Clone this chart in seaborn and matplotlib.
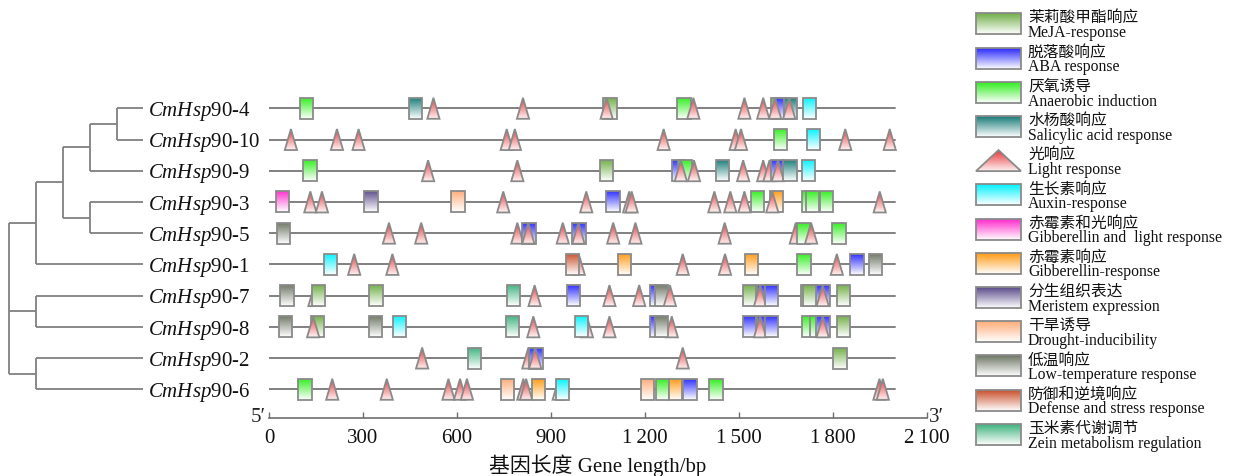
import numpy as np
import pandas as pd
import matplotlib
matplotlib.use("Agg")
import matplotlib.pyplot as plt
from matplotlib.colors import to_rgb
from matplotlib.patches import Polygon
from matplotlib.transforms import blended_transform_factory
import seaborn as sns

# ---------------------------------------------------------------- data
genes = ["CmHsp90-4", "CmHsp90-10", "CmHsp90-9", "CmHsp90-3", "CmHsp90-5",
         "CmHsp90-1", "CmHsp90-7", "CmHsp90-8", "CmHsp90-2", "CmHsp90-6"]
gene_length_bp = [2000, 2000, 2000, 2000, 2000, 2000, 2000, 2000, 2000, 2000]

# cladogram topology (leaves in the same order as the gene rows)
tree = (((((("CmHsp90-4", "CmHsp90-10"), "CmHsp90-9"),
           ("CmHsp90-3", "CmHsp90-5")), "CmHsp90-1")),
        ("CmHsp90-7", "CmHsp90-8"),
        ("CmHsp90-2", "CmHsp90-6"))

# cis-acting elements: (element type, centre position in bp)
cre_90_4 = [("ANA", 120), ("SA", 467), ("LIGHT", 525), ("LIGHT", 811),
            ("MeJA", 1089), ("LIGHT", 1078), ("ANA", 1325), ("LIGHT", 1355),
            ("LIGHT", 1518), ("LIGHT", 1578), ("MeJA", 1625), ("ABA", 1637),
            ("LIGHT", 1616), ("SA", 1665), ("LIGHT", 1661), ("AUX", 1725)]
cre_90_10 = [("LIGHT", 70), ("LIGHT", 217), ("LIGHT", 286), ("LIGHT", 759),
             ("LIGHT", 785), ("LIGHT", 1260), ("LIGHT", 1490), ("LIGHT", 1507),
             ("ANA", 1634), ("AUX", 1738), ("LIGHT", 1840), ("LIGHT", 1982)]
cre_90_9 = [("ANA", 131), ("LIGHT", 508), ("LIGHT", 793), ("MeJA", 1077),
            ("ABA", 1307), ("ANA", 1328), ("LIGHT", 1315), ("LIGHT", 1357),
            ("SA", 1447), ("LIGHT", 1514), ("LIGHT", 1578), ("LIGHT", 1598),
            ("ABA", 1624), ("LIGHT", 1625), ("SA", 1664), ("AUX", 1723)]
cre_90_3 = [("GAL", 44), ("LIGHT", 132), ("LIGHT", 169), ("MER", 326),
            ("DRO", 603), ("LIGHT", 748), ("LIGHT", 1013), ("ABA", 1098),
            ("LIGHT", 1150), ("LIGHT", 1158), ("LIGHT", 1422), ("LIGHT", 1473),
            ("LIGHT", 1518), ("ANA", 1559), ("GA", 1621), ("LIGHT", 1607),
            ("ANA", 1722), ("ANA", 1736), ("ANA", 1781), ("LIGHT", 1950)]
cre_90_5 = [("LTR", 46), ("LIGHT", 383), ("LIGHT", 486), ("LIGHT", 793),
            ("ABA", 830), ("LIGHT", 828), ("LIGHT", 938), ("ABA", 990),
            ("LIGHT", 988), ("LIGHT", 1099), ("LIGHT", 1170), ("LIGHT", 1455),
            ("LIGHT", 1682), ("ANA", 1706), ("LIGHT", 1731), ("ANA", 1820)]
cre_90_1 = [("AUX", 196), ("LIGHT", 272), ("LIGHT", 394), ("LIGHT", 989),
            ("DEF", 968), ("GA", 1134), ("LIGHT", 1321), ("LIGHT", 1456),
            ("GA", 1541), ("ANA", 1708), ("LIGHT", 1813), ("ABA", 1877),
            ("LTR", 1937)]
cre_90_7 = [("LTR", 57), ("LIGHT", 145), ("MeJA", 157), ("MeJA", 342),
            ("ZEIN", 781), ("LIGHT", 848), ("ABA", 973), ("LIGHT", 1087),
            ("LIGHT", 1182), ("ABA", 1238), ("LTR", 1254), ("LIGHT", 1280),
            ("MeJA", 1534), ("ABA", 1580), ("LIGHT", 1568), ("ABA", 1605),
            ("ANA", 1720), ("MeJA", 1727), ("ABA", 1769), ("LIGHT", 1768),
            ("MeJA", 1834)]
cre_90_8 = [("LTR", 53), ("MeJA", 154), ("LIGHT", 141), ("LTR", 341),
            ("AUX", 416), ("ZEIN", 777), ("LIGHT", 844), ("LIGHT", 1015),
            ("AUX", 998), ("LIGHT", 1087), ("LIGHT", 1286), ("ABA", 1238),
            ("LTR", 1254), ("ABA", 1534), ("ABA", 1578), ("LIGHT", 1568),
            ("ABA", 1605), ("ANA", 1722), ("ANA", 1749), ("ABA", 1769),
            ("LIGHT", 1768), ("MeJA", 1834)]
cre_90_2 = [("LIGHT", 489), ("ZEIN", 657), ("LIGHT", 828), ("ABA", 853),
            ("LIGHT", 850), ("LIGHT", 1321), ("MeJA", 1823)]
cre_90_6 = [("ANA", 115), ("LIGHT", 202), ("LIGHT", 376), ("LIGHT", 573),
            ("LIGHT", 610), ("LIGHT", 632), ("DRO", 761), ("LIGHT", 812),
            ("LIGHT", 821), ("GA", 860), ("LIGHT", 925), ("AUX", 938),
            ("DRO", 1208), ("ANA", 1257), ("GA", 1299), ("ABA", 1344),
            ("ANA", 1427), ("LIGHT", 1949), ("LIGHT", 1960)]

gene_elements = [cre_90_4, cre_90_10, cre_90_9, cre_90_3, cre_90_5,
                 cre_90_1, cre_90_7, cre_90_8, cre_90_2, cre_90_6]

legend_codes = ["MeJA", "ABA", "ANA", "SA", "LIGHT", "AUX", "GAL", "GA",
                "MER", "DRO", "LTR", "DEF", "ZEIN"]
legend_cn = ["茉莉酸甲酯响应", "脱落酸响应", "厌氧诱导", "水杨酸响应", "光响应",
             "生长素响应", "赤霉素和光响应", "赤霉素响应", "分生组织表达",
             "干旱诱导", "低温响应", "防御和逆境响应", "玉米素代谢调节"]
legend_en = ["MeJA-response", "ABA response", "Anaerobic induction",
             "Salicylic acid response", "Light response", "Auxin-response",
             "Gibberellin and  light response", "Gibberellin-response",
             "Meristem expression", "Drought-inducibility",
             "Low-temperature response", "Defense and stress response",
             "Zein metabolism regulation"]

axis_ticks = [0, 300, 600, 900, 1200, 1500, 1800, 2100]
tick_labels = ["0", "300", "600", "900", "1\u2009200", "1\u2009500",
               "1\u2009800", "2\u2009100"]

# ---------------------------------------------------------------- styles
element_colors = {
    "MeJA": "#6fae45", "ABA": "#2a2aff", "ANA": "#2eee1c", "SA": "#167b77",
    "LIGHT": "#e4363a", "AUX": "#00f2ff", "GAL": "#ff2ccc", "GA": "#ff9a14",
    "MER": "#5a4a8a", "DRO": "#ffac78", "LTR": "#6d7664", "DEF": "#c9502c",
    "ZEIN": "#3db37e",
}
EDGE = "#8a8a8a"
LINE = "#808080"

sns.set_theme(style="white")
plt.rcParams["font.family"] = ["Liberation Serif", "Noto Sans CJK SC"]
plt.rcParams["mathtext.fontset"] = "custom"
plt.rcParams["mathtext.it"] = "Liberation Serif:italic"
plt.rcParams["mathtext.rm"] = "Liberation Serif"

W, H = 1233, 477
fig = plt.figure(figsize=(W / 100, H / 100), dpi=100)

row0_px, row_step, axis_px = 109.3, 31.22, 419.0
top_px = row0_px - 0.5 * row_step
ax_b = 1 - axis_px / H
ax_h = (axis_px - top_px) / H
ylim = ((axis_px - row0_px) / row_step, -0.5)

ax = fig.add_axes([269 / W, ax_b, (926.7 - 269) / W, ax_h])


def gradient_shape(axis, verts, color, z, bottom="#ffffff", lw=1.3):
    verts = np.asarray(verts, float)
    x0, x1 = verts[:, 0].min(), verts[:, 0].max()
    y0, y1 = verts[:, 1].min(), verts[:, 1].max()
    c = np.array(to_rgb(color))
    b = np.array(to_rgb(bottom))
    t = np.linspace(0, 1, 64)[:, None]
    img = (c * (1 - t) + b * t)[:, None, :]
    im = axis.imshow(img, extent=(x0, x1, y1, y0), origin="upper",
                     aspect="auto", interpolation="bilinear", zorder=z)
    poly = Polygon(verts, closed=True, facecolor="none", edgecolor=EDGE,
                   lw=lw, zorder=z + 0.005, joinstyle="miter")
    axis.add_patch(poly)
    im.set_clip_path(poly)


# gene backbones
backbone = pd.DataFrame(
    [(g, x, i) for i, (g, L) in enumerate(zip(genes, gene_length_bp)) for x in (0, L)],
    columns=["gene", "bp", "row"])
sns.lineplot(data=backbone, x="bp", y="row", units="gene", estimator=None,
             sort=False, color=LINE, lw=1.4, legend=False, ax=ax, zorder=1)

# elements on each gene
box_w, tri_w, el_h = 42.5, 39.0, 0.673
for i, elems in enumerate(gene_elements):
    for k, (code, pos) in enumerate(elems):
        z = 3 + 0.01 * k
        top, bot = i - el_h / 2, i + el_h / 2
        if code == "LIGHT":
            verts = [(pos - tri_w / 2, bot), (pos, top), (pos + tri_w / 2, bot)]
            gradient_shape(ax, verts, element_colors[code], z, bottom="#fff2f2")
        else:
            verts = [(pos - box_w / 2, bot), (pos - box_w / 2, top),
                     (pos + box_w / 2, top), (pos + box_w / 2, bot)]
            gradient_shape(ax, verts, element_colors[code], z)

ax.set_xlim(0, 2100)
ax.set_ylim(*ylim)
for s in ("left", "top", "right"):
    ax.spines[s].set_visible(False)
ax.spines["bottom"].set_color("#6e6e6e")
ax.spines["bottom"].set_linewidth(1.2)
ax.set_yticks([])
ax.set_ylabel("")
ax.set_xticks(axis_ticks)
ax.set_xticklabels(tick_labels, fontsize=15)
ax.tick_params(axis="x", bottom=True, direction="in", length=4, width=1,
               color="#6e6e6e", pad=7, labelcolor="#111111")
ax.set_xlabel("基因长度 Gene length/bp", fontsize=15, labelpad=5, color="#111111")
ax.patch.set_alpha(0)

ax.annotate("5\u2032", xy=(0, 0), xycoords="axes fraction", xytext=(-3, -3),
            textcoords="offset pixels", ha="right", va="baseline", fontsize=15)
ax.annotate("3\u2032", xy=(1, 0), xycoords="axes fraction", xytext=(2, -3),
            textcoords="offset pixels", ha="left", va="baseline", fontsize=15)

# gene names
name_tr = blended_transform_factory(fig.transFigure, ax.transData)
for i, g in enumerate(genes):
    ax.text(148 / W, i + 0.215, r"$\mathit{CmHsp}$" + g[len("CmHsp"):],
            transform=name_tr, fontsize=15, ha="left", va="baseline",
            color="#111111")

# cladogram
ax_t = fig.add_axes([0, ax_b, 143.3 / W, ax_h])
leaf_level = 134.3 / 27
ax_t.set_xlim(-1 / 3, leaf_level)
ax_t.set_ylim(*ylim)
ax_t.axis("off")


def draw_clade(node, level):
    if isinstance(node, str):
        return leaf_level, genes.index(node)
    kids = [draw_clade(c, level + 1) for c in node]
    ys = [ky for _, ky in kids]
    if len(kids) > 1:
        ax_t.plot([level, level], [min(ys), max(ys)], color=LINE, lw=1.3,
                  solid_capstyle="butt", clip_on=False)
    for kx, ky in kids:
        ax_t.plot([level, kx], [ky, ky], color=LINE, lw=1.3,
                  solid_capstyle="butt", clip_on=False)
    return level, (min(ys) + max(ys)) / 2


# the outermost tuple holds the three root clades
draw_clade(tree, 0)

# legend
ax_l = fig.add_axes([0, 0, 1, 1])
ax_l.patch.set_alpha(0)
for j, code in enumerate(legend_codes):
    top = 14.3 + 34.2 * j
    bot = top + 21
    cy = top + 10.5
    if code == "LIGHT":
        verts = [(976, bot), (998.5, top), (1021, bot)]
        gradient_shape(ax_l, verts, element_colors[code], 3, bottom="#fff2f2")
    else:
        verts = [(976, bot), (976, top), (1021, top), (1021, bot)]
        gradient_shape(ax_l, verts, element_colors[code], 3)
    ax_l.text(1028, cy - 2.4, legend_cn[j], fontsize=11.3, ha="left",
              va="baseline", family=["Noto Sans CJK SC"], color="#111111")
    ax_l.text(1028, cy + 12.3, legend_en[j], fontsize=11.3, ha="left",
              va="baseline", family=["Liberation Serif"], color="#111111")
ax_l.set_xlim(0, W)
ax_l.set_ylim(H, 0)
ax_l.axis("off")

fig.savefig("out.png", dpi=100)
